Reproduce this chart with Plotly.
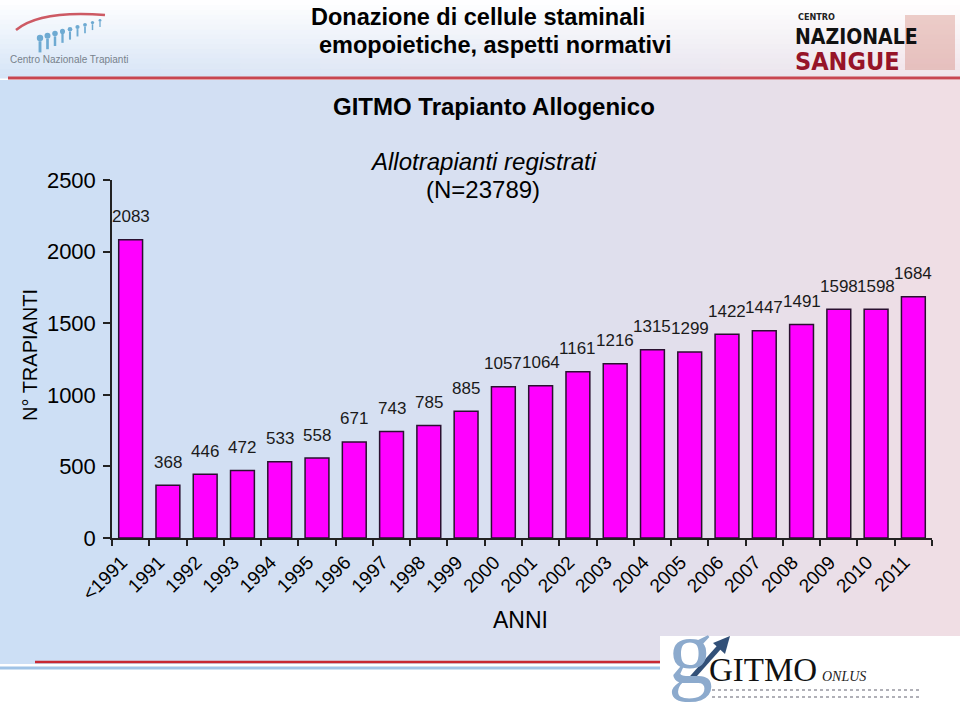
import plotly.graph_objects as go

categories = ["<1991", "1991", "1992", "1993", "1994", "1995", "1996", "1997", "1998", "1999",
              "2000", "2001", "2002", "2003", "2004", "2005", "2006", "2007", "2008", "2009",
              "2010", "2011"]
values = [2083, 368, 446, 472, 533, 558, 671, 743, 785, 885,
          1057, 1064, 1161, 1216, 1315, 1299, 1422, 1447, 1491, 1598,
          1598, 1684]
y_ticks = [0, 500, 1000, 1500, 2000, 2500]

W, H = 960, 702
L, R, T, B = 112, 932, 180, 538
FONT = "Liberation Sans, Arial, sans-serif"


def px_x(p):
    return (p - L) / (R - L)


def px_y(p):
    return (B - p) / (B - T)


def lerp(c1, c2, t):
    return tuple(int(round(a + (b - a) * t)) for a, b in zip(c1, c2))


def rgb(c):
    return "rgb(%d,%d,%d)" % c


shapes = []
left_c = (204, 223, 245)
mid_c = (217, 224, 241)
right_c = (240, 222, 228)


def bg_at(s):
    return lerp(left_c, mid_c, s / 0.5) if s < 0.5 else lerp(mid_c, right_c, (s - 0.5) / 0.5)


n = 48
for i in range(n):
    x0 = W * i / n
    x1 = W * (i + 1) / n + 0.5
    c = bg_at((i + 0.5) / n)
    shapes.append(dict(type="rect", xref="paper", yref="paper", layer="below",
                       x0=px_x(x0), x1=px_x(x1), y0=px_y(80), y1=px_y(664),
                       line=dict(width=0), fillcolor=rgb(c)))
# top band: white at top -> light tint at bottom
m = 16
for j in range(m):
    y0 = 78 * j / m
    y1 = 78 * (j + 1) / m + 0.5
    t = (j + 0.5) / m
    for i in range(12):
        x0 = W * i / 12
        x1 = W * (i + 1) / 12 + 0.5
        base = bg_at((i + 0.5) / 12)
        c = lerp((255, 255, 255), base, t * 0.85)
        shapes.append(dict(type="rect", xref="paper", yref="paper", layer="below",
                           x0=px_x(x0), x1=px_x(x1), y0=px_y(y1), y1=px_y(y0),
                           line=dict(width=0), fillcolor=rgb(c)))
# red separator under header
shapes.append(dict(type="line", xref="paper", yref="paper", layer="below",
                   x0=px_x(8), x1=px_x(960), y0=px_y(78), y1=px_y(78),
                   line=dict(color="rgb(200,70,80)", width=3)))
# bottom lines
shapes.append(dict(type="line", xref="paper", yref="paper", layer="below",
                   x0=px_x(35), x1=px_x(665), y0=px_y(662), y1=px_y(662),
                   line=dict(color="rgb(200,40,50)", width=2.5)))
shapes.append(dict(type="line", xref="paper", yref="paper", layer="below",
                   x0=px_x(0), x1=px_x(665), y0=px_y(668), y1=px_y(668),
                   line=dict(color="rgb(160,195,230)", width=3)))
shapes.append(dict(type="rect", xref="paper", yref="paper", layer="below",
                   x0=px_x(0), x1=px_x(960), y0=px_y(702), y1=px_y(670),
                   line=dict(width=0), fillcolor="white"))
# GITMO logo box
shapes.append(dict(type="rect", xref="paper", yref="paper", layer="below",
                   x0=px_x(660), x1=px_x(960), y0=px_y(702), y1=px_y(636),
                   line=dict(width=0), fillcolor="white"))
# GITMO arrow
shapes.append(dict(type="line", xref="paper", yref="paper",
                   x0=px_x(690), x1=px_x(722), y0=px_y(680), y1=px_y(644),
                   line=dict(color="rgb(50,80,120)", width=5)))
shapes.append(dict(type="path", xref="paper", yref="paper",
                   path="M %f,%f L %f,%f L %f,%f Z" % (px_x(730), px_y(636), px_x(713), px_y(643), px_x(725), px_y(654)),
                   fillcolor="rgb(50,80,120)", line=dict(width=0)))
# GITMO small text lines
for yy in (690, 697):
    shapes.append(dict(type="line", xref="paper", yref="paper",
                       x0=px_x(712), x1=px_x(920), y0=px_y(yy), y1=px_y(yy),
                       line=dict(color="rgb(150,150,160)", width=1.5, dash="dot")))
# CNT logo: red arc + blue figures
shapes.append(dict(type="path", xref="paper", yref="paper",
                   path="M %f,%f Q %f,%f %f,%f" % (px_x(16), px_y(30), px_x(40), px_y(10), px_x(105), px_y(15)),
                   line=dict(color="rgb(205,90,100)", width=2.5)))
for k in range(9):
    cx = 40 + k * 7.5
    cy = 38 - k * 2.2
    r = 3.2 - k * 0.22
    shapes.append(dict(type="circle", xref="paper", yref="paper",
                       x0=px_x(cx - r), x1=px_x(cx + r), y0=px_y(cy + r), y1=px_y(cy - r),
                       fillcolor="rgb(110,170,210)", line=dict(width=0)))
    shapes.append(dict(type="line", xref="paper", yref="paper",
                       x0=px_x(cx), x1=px_x(cx), y0=px_y(cy + r), y1=px_y(cy + r + 3.5 * r),
                       line=dict(color="rgb(110,170,210)", width=max(1, r * 0.9))))
# CNS logo picture
shapes.append(dict(type="rect", xref="paper", yref="paper", layer="below",
                   x0=px_x(905), x1=px_x(955), y0=px_y(70), y1=px_y(15),
                   fillcolor="rgba(205,120,105,0.35)", line=dict(width=0)))

fig = go.Figure()
fig.add_trace(go.Bar(
    x=categories, y=values,
    marker=dict(color="#ff00ff", line=dict(color="#2a1030", width=1.5)),
    width=0.64, showlegend=False, hoverinfo="x+y",
))

annotations = []
for i, v in enumerate(values):
    annotations.append(dict(x=i, y=v, xref="x", yref="y", text=str(v), showarrow=False,
                            yanchor="middle", yshift=23,
                            font=dict(family=FONT, size=17, color="#1a1a1a")))


def ptext(x, y, text, size, bold=False, italic=False, color="black", family=FONT, xanchor="center", angle=0):
    t = text
    if bold:
        t = "<b>" + t + "</b>"
    if italic:
        t = "<i>" + t + "</i>"
    return dict(x=px_x(x), y=px_y(y), xref="paper", yref="paper", text=t, showarrow=False,
                xanchor=xanchor, yanchor="middle", textangle=angle,
                font=dict(family=family, size=size, color=color))


CND = "DejaVu Sans Condensed, DejaVu Sans"
annotations += [
    ptext(478, 17, "Donazione di cellule staminali", 23.5, bold=True),
    ptext(495, 45, "emopoietiche, aspetti normativi", 23.5, bold=True),
    ptext(494, 107, "GITMO Trapianto Allogenico", 24, bold=True),
    ptext(483, 161, "Allotrapianti registrati", 24, italic=True),
    ptext(483, 189, "(N=23789)", 24),
    ptext(30, 355, "N° TRAPIANTI", 20, angle=-90),
    ptext(520, 620, "ANNI", 23),
    ptext(8, 60, "Centro Nazionale Trapianti", 10, color="rgb(120,130,140)", xanchor="left"),
    ptext(796, 17, "CENTRO", 9, bold=True, color="#222222", family=CND, xanchor="left"),
    ptext(793, 37, "NAZIONALE", 21, bold=True, color="#111111", family=CND, xanchor="left"),
    ptext(793, 62, "SANGUE", 25, bold=True, color="rgb(150,20,40)", family=CND, xanchor="left"),
    ptext(690, 652, "g", 90, color="rgb(140,170,205)", family="Liberation Serif, serif"),
    ptext(763, 670, "GITMO", 33, color="#111111", family="Liberation Serif, serif"),
    ptext(844, 676, "ONLUS", 14, italic=True, color="#222222", family="Liberation Serif, serif"),
]

fig.update_layout(
    width=W, height=H,
    margin=dict(l=L, r=W - R, t=T, b=H - B),
    paper_bgcolor="white",
    plot_bgcolor="rgba(0,0,0,0)",
    shapes=shapes,
    annotations=annotations,
    font=dict(family=FONT, color="black"),
    xaxis=dict(
        type="category", range=[-0.5, len(categories) - 0.5],
        tickangle=-45, tickson="boundaries", ticks="outside", ticklen=6,
        tickcolor="#222222", tickwidth=1.5,
        showline=True, linecolor="#222222", linewidth=1.5,
        showgrid=False, tickfont=dict(family=FONT, size=19, color="black"),
        ticklabelshift=-9, ticklabelstandoff=4,
    ),
    yaxis=dict(
        range=[0, 2500], tickvals=y_ticks, ticks="outside", ticklen=7,
        tickcolor="#222222", tickwidth=1.5,
        showline=True, linecolor="#222222", linewidth=1.5,
        showgrid=False, zeroline=False, ticklabelstandoff=3,
        tickfont=dict(family=FONT, size=22, color="black"),
    ),
)

fig.write_html("out.html", config={"displayModeBar": False},
               post_script="document.body.style.margin='0';")
